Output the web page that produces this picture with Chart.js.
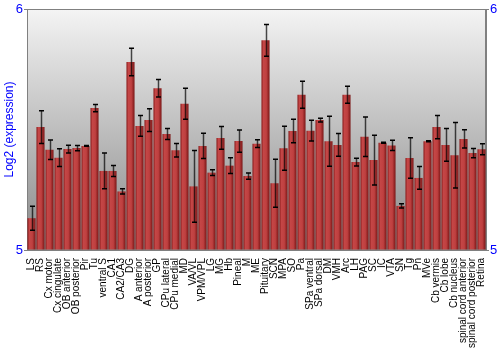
<!DOCTYPE html>
<html>
<head>
<meta charset="utf-8">
<script src="https://cdn.jsdelivr.net/npm/chart.js@4"></script>
<style>
  html, body { margin: 0; padding: 0; background: #fff; }
  #wrap { width: 500px; height: 350px; }
</style>
</head>
<body>
<div id="wrap"><canvas id="exprChart"></canvas></div>
<script>
// --- DATA ---
const regions = ['LS', 'RS', 'Cx motor', 'Cx cingulate', 'OB anterior', 'OB posterior', 'Pir', 'Tu',
    'ventral S', 'CA1', 'CA2/CA3', 'DG', 'A anterior', 'A posterior', 'GP', 'CPu lateral', 'CPu medial',
    'MD', 'VA/VL', 'VPM/VPL', 'LG', 'MG', 'Hb', 'Pineal', 'M', 'ME', 'Pituitary', 'SCN', 'MPA', 'SO',
    'Pa', 'SPa ventral', 'SPa dorsal', 'DM', 'VMH', 'Arc', 'LH', 'PAG', 'SC', 'IC', 'VTA', 'SN', 'Tg',
    'Pn', 'MVe', 'Cb vermis', 'Cb lobe', 'Cb nucleus', 'spinal cord anterior', 'spinal cord posterior', 'Retina'];

const expression = [5.132, 5.510, 5.416, 5.383, 5.419, 5.423, 5.432, 5.589,
    5.328, 5.328, 5.243, 5.780, 5.515, 5.539, 5.671, 5.481, 5.414,
    5.607, 5.264, 5.432, 5.321, 5.465, 5.350, 5.452, 5.307, 5.441, 5.870, 5.277, 5.422, 5.494,
    5.644, 5.495, 5.539, 5.451, 5.436, 5.644, 5.365, 5.470, 5.373, 5.445, 5.434, 5.183, 5.382,
    5.299, 5.451, 5.510, 5.436, 5.393, 5.461, 5.402, 5.418];

const errors = [0.050, 0.068, 0.040, 0.037, 0.016, 0.011, 0.002, 0.015,
    0.074, 0.023, 0.011, 0.057, 0.043, 0.047, 0.036, 0.023, 0.028,
    0.064, 0.149, 0.052, 0.012, 0.047, 0.033, 0.046, 0.013, 0.016, 0.066, 0.100, 0.091, 0.049,
    0.056, 0.043, 0.008, 0.104, 0.047, 0.035, 0.016, 0.082, 0.103, 0.002, 0.021, 0.009, 0.084,
    0.047, 0.002, 0.048, 0.068, 0.136, 0.038, 0.019, 0.023];

const yTicks = [5, 6];

// --- PLUGIN: latar gradien abu-abu + bingkai ---
const plotBackground = {
    id: 'plotBackground',
    beforeDatasetsDraw(chart) {
        const { ctx, chartArea: a } = chart;
        const g = ctx.createLinearGradient(0, a.top, 0, a.bottom);
        g.addColorStop(0, '#f4f4f4');
        g.addColorStop(1, '#888888');
        ctx.save();
        ctx.fillStyle = g;
        ctx.fillRect(a.left, a.top, a.right - a.left, a.bottom - a.top);
        ctx.strokeStyle = '#808080';
        ctx.lineWidth = 1;
        ctx.strokeRect(a.left + 0.5, a.top + 0.5, a.right - a.left - 1, a.bottom - a.top);
        ctx.restore();
    }
};

// --- PLUGIN: error bar ---
const errorBars = {
    id: 'errorBars',
    afterDatasetsDraw(chart) {
        const { ctx } = chart;
        const x = chart.scales.x, y = chart.scales.y;
        ctx.save();
        expression.forEach((v, i) => {
            const cx = Math.round(x.getPixelForValue(i)) + 0.5;
            const yTop = y.getPixelForValue(v + errors[i]);
            const yBot = y.getPixelForValue(v - errors[i]);
            ctx.strokeStyle = 'rgba(0,0,0,0.7)';
            ctx.lineWidth = 1.5;
            ctx.beginPath();
            ctx.moveTo(cx, yTop);
            ctx.lineTo(cx, yBot);
            ctx.stroke();
            ctx.strokeStyle = '#000';
            ctx.beginPath();
            ctx.moveTo(cx - 2.5, yTop);
            ctx.lineTo(cx + 2.5, yTop);
            ctx.moveTo(cx - 2.5, yBot);
            ctx.lineTo(cx + 2.5, yBot);
            ctx.stroke();
        });
        ctx.restore();
    }
};

// gradien batang (gelap di tepi, terang di tengah)
const barFill = (context) => {
    const chart = context.chart;
    const xs = chart.scales.x;
    if (!xs || !chart.chartArea) return '#b83838';
    const cx = xs.getPixelForValue(context.dataIndex);
    const half = (xs.width / regions.length) * 0.45;
    const g = chart.ctx.createLinearGradient(cx - half, 0, cx + half, 0);
    g.addColorStop(0, '#8a1c1c');
    g.addColorStop(0.25, '#c44646');
    g.addColorStop(0.6, '#bf4040');
    g.addColorStop(1, '#7a1616');
    return g;
};

const blue = '#0000ff';
const font = 'Liberation Sans, Arial, sans-serif';

new Chart(document.getElementById('exprChart'), {
    type: 'bar',
    data: {
        labels: regions,
        datasets: [{
            data: expression,
            backgroundColor: barFill,
            borderWidth: 0,
            barPercentage: 0.9,
            categoryPercentage: 1.0,
            base: 5
        }]
    },
    options: {
        responsive: true,
        maintainAspectRatio: false,
        animation: false,
        layout: { padding: { top: 9, left: 0, right: 0, bottom: 0 } },
        plugins: {
            legend: { display: false },
            tooltip: { enabled: false }
        },
        scales: {
            x: {
                grid: { display: false },
                border: { display: false },
                ticks: {
                    autoSkip: false,
                    maxRotation: 90,
                    minRotation: 90,
                    padding: 0,
                    color: '#000',
                    font: { family: font, size: 10 }
                },
                afterFit(scale) { scale.height = 100; }
            },
            y: {
                position: 'left',
                min: 5,
                max: 6,
                afterBuildTicks(scale) { scale.ticks = yTicks.map(v => ({ value: v })); },
                grid: { drawOnChartArea: false, tickLength: 3, color: '#808080' },
                border: { display: true, color: '#808080' },
                ticks: { color: blue, padding: 1, font: { family: font, size: 13 } },
                title: {
                    display: true,
                    text: 'Log2 (expression)',
                    color: blue,
                    padding: { top: 2, bottom: 0 },
                    font: { family: font, size: 12 }
                },
                afterFit(scale) { scale.width = 27; }
            },
            yRight: {
                position: 'right',
                min: 5,
                max: 6,
                afterBuildTicks(scale) { scale.ticks = yTicks.map(v => ({ value: v })); },
                grid: { drawOnChartArea: false, tickLength: 3, color: '#808080' },
                border: { display: true, color: '#808080' },
                ticks: { color: blue, padding: 1, font: { family: font, size: 13 } },
                afterFit(scale) { scale.width = 14; }
            }
        }
    },
    plugins: [plotBackground, errorBars]
});
</script>
</body>
</html>
